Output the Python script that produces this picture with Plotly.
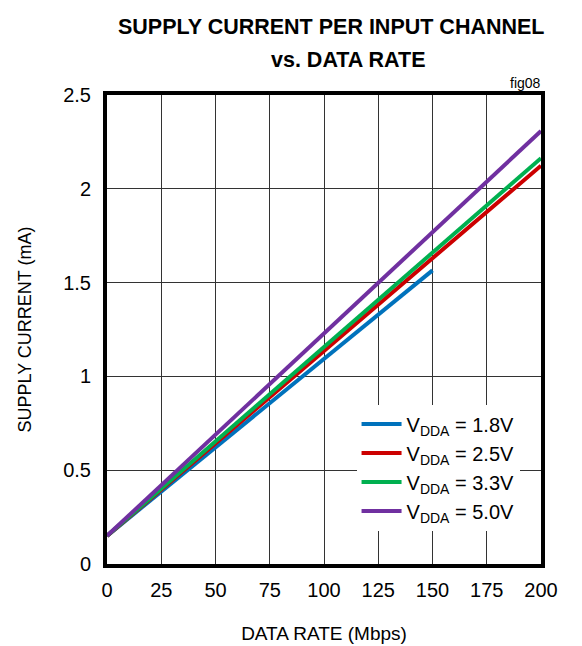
import plotly.graph_objects as go

data_rate = [0, 50, 100, 150, 200]
series_names = ["V<sub>DDA</sub> = 1.8V", "V<sub>DDA</sub> = 2.5V",
                "V<sub>DDA</sub> = 3.3V", "V<sub>DDA</sub> = 5.0V"]
i_18 = [0.15, 0.62, 1.09, 1.565]
i_25 = [0.15, 0.64, 1.135, 1.63, 2.123]
i_33 = [0.15, 0.655, 1.155, 1.66, 2.163]
i_50 = [0.15, 0.69, 1.23, 1.77, 2.308]
colors = ["#0072BC", "#CC0000", "#00B050", "#7030A0"]
x_ticks = [0, 25, 50, 75, 100, 125, 150, 175, 200]
y_ticks = [0, 0.5, 1, 1.5, 2, 2.5]
y_tick_text = ["0", "0.5", "1", "1.5", "2", "2.5"]

FONT = "Liberation Sans Narrow, Arial Narrow, Liberation Sans, Arial, sans-serif"

fig = go.Figure()
for name, ys, c in zip(series_names, [i_18, i_25, i_33, i_50], colors):
    fig.add_trace(go.Scatter(x=data_rate[:len(ys)], y=ys, mode="lines", name=name,
                             line=dict(color=c, width=4)))

fig.update_layout(
    width=582, height=646,
    margin=dict(l=107, r=41, t=95, b=82),
    paper_bgcolor="white", plot_bgcolor="white",
    font=dict(family=FONT, color="black", size=20),
    showlegend=True,
    legend=dict(x=0.575, y=0.34, xanchor="left", yanchor="top",
                bgcolor="white", borderwidth=0,
                font=dict(family=FONT, size=20, color="black"),
                tracegroupgap=0, itemwidth=40),
    xaxis=dict(range=[0, 200], tickvals=x_ticks, ticks="outside", ticklen=5, tickcolor="white",
               showgrid=True, gridcolor="#333333", gridwidth=1, zeroline=False,
               showline=True, linecolor="black", linewidth=4, mirror=True, automargin=False,
               tickfont=dict(family=FONT, size=20),
               title=dict(text="DATA RATE (Mbps)", font=dict(family=FONT, size=19), standoff=28)),
    yaxis=dict(range=[0, 2.5], tickvals=y_ticks, ticktext=y_tick_text, ticks="outside", ticklen=8,
               tickcolor="white", automargin=False,
               showgrid=True, gridcolor="#333333", gridwidth=1, zeroline=False,
               showline=True, linecolor="black", linewidth=4, mirror=True,
               tickfont=dict(family=FONT, size=20),
               title=dict(text="SUPPLY CURRENT (mA)", font=dict(family=FONT, size=18), standoff=28)),
    annotations=[
        dict(text="<b>SUPPLY CURRENT PER INPUT CHANNEL</b>", xref="paper", yref="paper",
             x=(331 - 107) / 434, y=1 + (95 - 27) / 469, xanchor="center", yanchor="middle",
             showarrow=False, font=dict(family=FONT, size=21.5, color="black")),
        dict(text="<b>vs. DATA RATE</b>", xref="paper", yref="paper",
             x=(348 - 107) / 434, y=1 + (95 - 60) / 469, xanchor="center", yanchor="middle",
             showarrow=False, font=dict(family=FONT, size=21.5, color="black")),
        dict(text="fig08", xref="paper", yref="paper",
             x=(543 - 107) / 434, y=1 + (95 - 83) / 469, xanchor="right", yanchor="middle",
             showarrow=False, font=dict(family=FONT, size=14, color="black")),
    ],
)

fig.write_html("out.html")
